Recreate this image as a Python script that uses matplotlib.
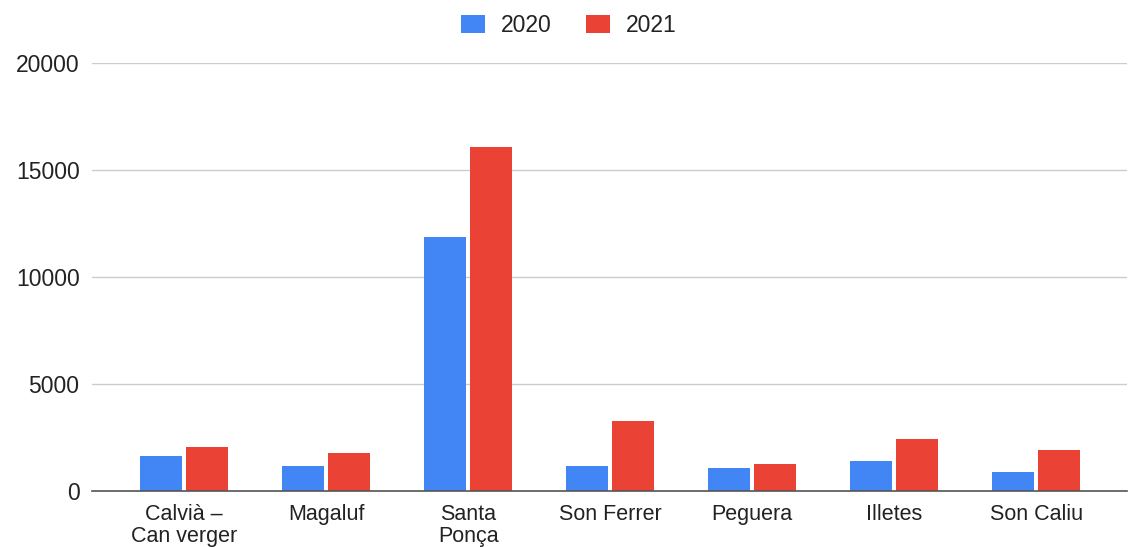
import matplotlib.pyplot as plt
import numpy as np

plt.rcParams['font.family'] = ['Liberation Sans', 'DejaVu Sans']

# data
categories = ["Calvià –\nCan verger", "Magaluf", "Santa\nPonça", "Son Ferrer",
              "Peguera", "Illetes", "Son Caliu"]
values_2020 = [1635, 1185, 11900, 1200, 1120, 1435, 920]
values_2021 = [2075, 1795, 16100, 3285, 1275, 2475, 1950]
yticks = [0, 5000, 10000, 15000, 20000]

blue = '#4285F4'
red = '#EA4335'

fig = plt.figure(figsize=(11.29, 5.47), dpi=100)
ax = fig.add_axes([0.0815, 0.1015, 0.917, 0.7825])

x = np.arange(len(categories))
w = 0.296
ax.bar(x - 0.162, values_2020, w, color=blue, label='2020', zorder=3)
ax.bar(x + 0.162, values_2021, w, color=red, label='2021', zorder=3)

ax.set_xlim(-0.648, 6.64)
ax.set_ylim(0, 20000)
ax.set_yticks(yticks)
ax.set_yticklabels([str(v) for v in yticks], fontsize=16.5, color='#222222')
ax.set_xticks(x)
ax.set_xticklabels(categories, fontsize=15.5, color='#222222', linespacing=1.05)
ax.tick_params(axis='both', length=0)
ax.tick_params(axis='y', pad=9)
ax.tick_params(axis='x', pad=9)

ax.grid(axis='y', color='#cccccc', linewidth=1, zorder=0)
for s in ['top', 'right', 'left']:
    ax.spines[s].set_visible(False)
ax.spines['bottom'].set_color('#555555')
ax.spines['bottom'].set_linewidth(1.2)
ax.spines['bottom'].set_zorder(4)

fig.legend(loc='center', bbox_to_anchor=(0.504, 0.954), ncol=2, frameon=False,
           fontsize=16.5, handlelength=1.05, handleheight=0.85, columnspacing=1.5,
           handletextpad=0.7, labelcolor='#222222')

fig.savefig('out.png', dpi=100)
